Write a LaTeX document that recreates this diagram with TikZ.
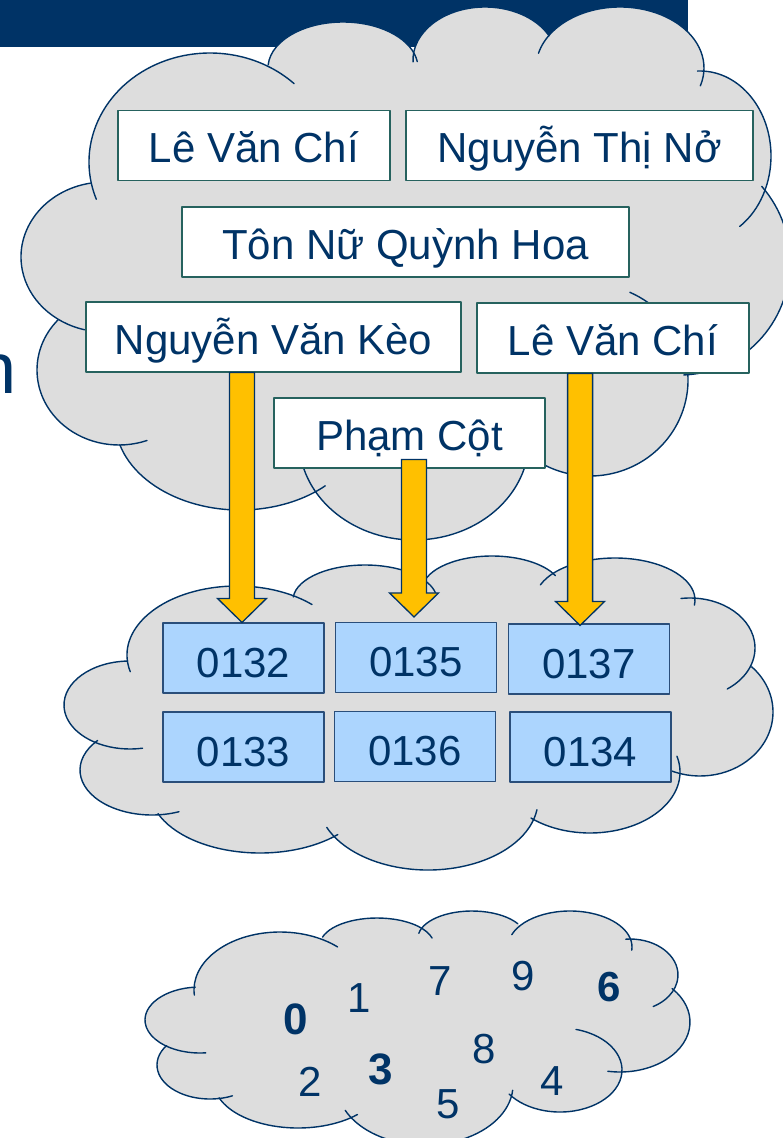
\documentclass[tikz,border=0pt]{standalone}
\usepackage{fontspec}
\setmainfont{Liberation Sans}
\usetikzlibrary{calc,positioning}

\definecolor{navy}{RGB}{0,51,102}
\definecolor{cloudgray}{RGB}{221,221,221}
\definecolor{gold}{RGB}{255,192,0}
\definecolor{paleblue}{RGB}{172,213,254}
\definecolor{tealline}{RGB}{38,98,94}
\definecolor{boxline}{RGB}{42,78,122}

\tikzset{
  cloudfill/.style={fill=cloudgray},
  cloudline/.style={draw=navy,line width=1.4pt,line cap=round},
  namebox/.style={draw=tealline,fill=white,line width=1.1pt,inner sep=0pt,
    text=navy,font=\fontsize{42}{50}\selectfont,text height=34pt,text depth=0pt,
    minimum height=70pt},
  numbox/.style={draw=boxline,fill=paleblue,line width=1.1pt,inner sep=0pt,
    text=navy,font=\fontsize{42}{50}\selectfont,text height=38pt,text depth=0pt,
    minimum width=161pt,minimum height=70pt},
  digit/.style={text=navy,inner sep=0pt,font=\fontsize{42}{50}\selectfont},
  bolddigit/.style={digit,font=\fontsize{44}{50}\selectfont\bfseries},
  goldarrow/.style={fill=gold,draw=navy,line width=1.3pt,line join=miter},
}

% block arrow from a box bottom (#1) down to a tip (#2)
\newcommand{\yellowarrow}[2]{%
  \draw[goldarrow] let \p1=#1, \p2=#2 in
    (\x2-12.5pt,\y1) -- (\x2-12.5pt,\y2+24pt) -- (\x2-24.5pt,\y2+24pt)
    -- (\x2,\y2) -- (\x2+24.5pt,\y2+24pt) -- (\x2+12.5pt,\y2+24pt)
    -- (\x2+12.5pt,\y1) -- cycle;}

\begin{document}
\begin{tikzpicture}[x=1pt,y=-1pt,line join=round]
\useasboundingbox (0,0) rectangle (783,1138);
% title band and cut word
\fill[navy] (0,0) rectangle (688,47);
\node[text=navy,font=\fontsize{72}{80}\selectfont,anchor=base west,inner sep=0pt] (cutword) at (-23.3,393.3) {n};

% upper cloud
\begin{scope}
\fill[cloudfill] (210,162) -- (343,68) -- (485,60) -- (620,68) -- (700,156) -- (680,262)
  -- (590,380) -- (414,440) -- (240,420) -- (119,370) -- (105,257) -- cycle;
\fill[cloudfill] (210,162) ellipse [x radius=121,y radius=109]
  (343,68) ellipse [x radius=75,y radius=46]
  (485,60) ellipse [x radius=72,y radius=53]
  (620,68) ellipse [x radius=84,y radius=61]
  (700,156) ellipse [x radius=71,y radius=85]
  (680,262) ellipse [x radius=110,y radius=113]
  (590,380) ellipse [x radius=98,y radius=96]
  (414,440) ellipse [x radius=115,y radius=100]
  (240,420) ellipse [x radius=125,y radius=90]
  (119,370) ellipse [x radius=82,y radius=75]
  (105,257) ellipse [x radius=84,y radius=75];
\draw[cloudline,shift={(210,162)}] (160:121 and 109) arc[start angle=160,end angle=314,x radius=121,y radius=109];
\draw[cloudline,shift={(343,68)}] (184:75 and 46) arc[start angle=184,end angle=352,x radius=75,y radius=46];
\draw[cloudline,shift={(485,60)}] (178:72 and 53) arc[start angle=178,end angle=333,x radius=72,y radius=53];
\draw[cloudline,shift={(620,68)}] (194:84 and 61) arc[start angle=194,end angle=377,x radius=84,y radius=61];
\draw[cloudline,shift={(700,156)}] (268:71 and 85) arc[start angle=268,end angle=416,x radius=71,y radius=85];
\draw[cloudline,shift={(680,262)}] (318:110 and 113) arc[start angle=318,end angle=448,x radius=110,y radius=113];
\draw[cloudline,shift={(590,380)}] (294:98 and 96) arc[start angle=294,end angle=485,x radius=98,y radius=96];
\draw[cloudline,shift={(414,440)}] (172:115 and 100) arc[start angle=172,end angle=8,x radius=115,y radius=100];
\draw[cloudline,shift={(240,420)}] (164:125 and 90) arc[start angle=164,end angle=47,x radius=125,y radius=90];
\draw[cloudline,shift={(119,370)}] (222:82 and 75) arc[start angle=222,end angle=70,x radius=82,y radius=75];
\draw[cloudline,shift={(105,257)}] (260:84 and 75) arc[start angle=260,end angle=104,x radius=84,y radius=75];
\end{scope}

% middle cloud
\begin{scope}
\fill[cloudfill] (237,655) -- (365,600) -- (492,590) -- (615,600) -- (690,648) -- (700,712)
  -- (590,772) -- (428,800) -- (260,790) -- (152,770) -- (130,705) -- cycle;
\fill[cloudfill] (237,655) ellipse [x radius=110,y radius=69]
  (365,600) ellipse [x radius=72,y radius=35]
  (492,590) ellipse [x radius=70,y radius=34]
  (615,600) ellipse [x radius=80,y radius=42]
  (690,648) ellipse [x radius=65,y radius=50]
  (700,712) ellipse [x radius=73,y radius=64]
  (590,772) ellipse [x radius=90,y radius=61]
  (428,800) ellipse [x radius=110,y radius=70]
  (260,790) ellipse [x radius=110,y radius=63]
  (152,770) ellipse [x radius=72,y radius=45]
  (130,705) ellipse [x radius=66,y radius=44];
\draw[cloudline,shift={(237,655)}] (166:110 and 69) arc[start angle=166,end angle=313,x radius=110,y radius=69];
\draw[cloudline,shift={(365,600)}] (185:72 and 35) arc[start angle=185,end angle=350,x radius=72,y radius=35];
\draw[cloudline,shift={(492,590)}] (190:70 and 34) arc[start angle=190,end angle=335,x radius=70,y radius=34];
\draw[cloudline,shift={(615,600)}] (201:80 and 42) arc[start angle=201,end angle=367,x radius=80,y radius=42];
\draw[cloudline,shift={(690,648)}] (262:65 and 50) arc[start angle=262,end angle=415,x radius=65,y radius=50];
\draw[cloudline,shift={(700,712)}] (315:73 and 64) arc[start angle=315,end angle=480,x radius=73,y radius=64];
\draw[cloudline,shift={(590,772)}] (345:90 and 61) arc[start angle=345,end angle=491,x radius=90,y radius=61];
\draw[cloudline,shift={(428,800)}] (157:110 and 70) arc[start angle=157,end angle=8,x radius=110,y radius=70];
\draw[cloudline,shift={(260,790)}] (158:110 and 63) arc[start angle=158,end angle=45,x radius=110,y radius=63];
\draw[cloudline,shift={(152,770)}] (221:72 and 45) arc[start angle=221,end angle=68,x radius=72,y radius=45];
\draw[cloudline,shift={(130,705)}] (268:66 and 44) arc[start angle=268,end angle=79,x radius=66,y radius=44];
\end{scope}

% lower cloud
\begin{scope}
\fill[cloudfill] (280,990) -- (377,945) -- (472,938) -- (570,947) -- (630,975) -- (620,1022)
  -- (560,1070) -- (425,1085) -- (298,1082) -- (210,1065) -- (200,1020) -- cycle;
\fill[cloudfill] (280,990) ellipse [x radius=86,y radius=58]
  (377,945) ellipse [x radius=57,y radius=27]
  (472,938) ellipse [x radius=54,y radius=27]
  (570,947) ellipse [x radius=62,y radius=36]
  (630,975) ellipse [x radius=48,y radius=36]
  (620,1022) ellipse [x radius=70,y radius=50]
  (560,1070) ellipse [x radius=62,y radius=42]
  (425,1085) ellipse [x radius=88,y radius=60]
  (298,1082) ellipse [x radius=84,y radius=46]
  (210,1065) ellipse [x radius=53,y radius=34]
  (200,1020) ellipse [x radius=55,y radius=33];
\draw[cloudline,shift={(280,990)}] (175:86 and 58) arc[start angle=175,end angle=312,x radius=86,y radius=58];
\draw[cloudline,shift={(377,945)}] (197:57 and 27) arc[start angle=197,end angle=345,x radius=57,y radius=27];
\draw[cloudline,shift={(472,938)}] (190:54 and 27) arc[start angle=190,end angle=328,x radius=54,y radius=27];
\draw[cloudline,shift={(570,947)}] (200:62 and 36) arc[start angle=200,end angle=365,x radius=62,y radius=36];
\draw[cloudline,shift={(630,975)}] (265:48 and 36) arc[start angle=265,end angle=421,x radius=48,y radius=36];
\draw[cloudline,shift={(620,1022)}] (318:70 and 50) arc[start angle=318,end angle=460,x radius=70,y radius=50];
\draw[cloudline,shift={(560,1070)}] (285:62 and 42) arc[start angle=285,end angle=505,x radius=62,y radius=42];
\draw[cloudline,shift={(425,1085)}] (155:88 and 60) arc[start angle=155,end angle=5,x radius=88,y radius=60];
\draw[cloudline,shift={(298,1082)}] (160:84 and 46) arc[start angle=160,end angle=45,x radius=84,y radius=46];
\draw[cloudline,shift={(210,1065)}] (215:53 and 34) arc[start angle=215,end angle=65,x radius=53,y radius=34];
\draw[cloudline,shift={(200,1020)}] (265:55 and 33) arc[start angle=265,end angle=84,x radius=55,y radius=33];
\end{scope}

% names
\node[namebox,minimum width=272pt] (chiA) at (254,145.5) {Lê Văn Chí};
\node[namebox,minimum width=347pt] (no) at (579.5,145.5) {Nguyễn Thị Nở};
\node[namebox,minimum width=447pt] (hoa) at (405.5,242) {Tôn Nữ Quỳnh Hoa};
\node[namebox,minimum width=375pt] (keo) at (273.5,337) {Nguyễn Văn Kèo};
\node[namebox,minimum width=272pt] (chiB) at (613,338) {Lê Văn Chí};
\node[namebox,minimum width=271pt] (cot) at (409.5,433) {Phạm Cột};

% numbers
\node[numbox] (n0132) at (243.5,658) {0132};
\node[numbox] (n0135) at (416,657.5) {0135};
\node[numbox] (n0137) at (588.8,659) {0137};
\node[numbox] (n0133) at (243.5,747) {0133};
\node[numbox] (n0136) at (415,746.5) {0136};
\node[numbox] (n0134) at (590.5,747) {0134};

% arrows
\yellowarrow{(keo.south)}{([xshift=-1.5pt]n0132.north)}
\yellowarrow{([yshift=9pt]cot.south)}{([xshift=-2pt,yshift=5pt]n0135.north)}
\yellowarrow{(chiB.south)}{([xshift=-8.7pt,yshift=-2pt]n0137.north)}

% loose digits
\node[bolddigit] (d0) at (295.7,1019) {0};
\node[digit] (d1) at (359.3,998.3) {1};
\node[digit] (d7) at (440,980.7) {7};
\node[digit] (d9) at (522.7,976) {9};
\node[bolddigit,font=\fontsize{42}{50}\selectfont\bfseries] (d6) at (609,986.7) {6};
\node[digit] (d2) at (310,1081.7) {2};
\node[bolddigit] (d3) at (380.7,1069.3) {3};
\node[digit] (d8) at (484.3,1049.3) {8};
\node[digit] (d5) at (448.3,1104) {5};
\node[digit] (d4) at (552.3,1081) {4};
\end{tikzpicture}
\end{document}
